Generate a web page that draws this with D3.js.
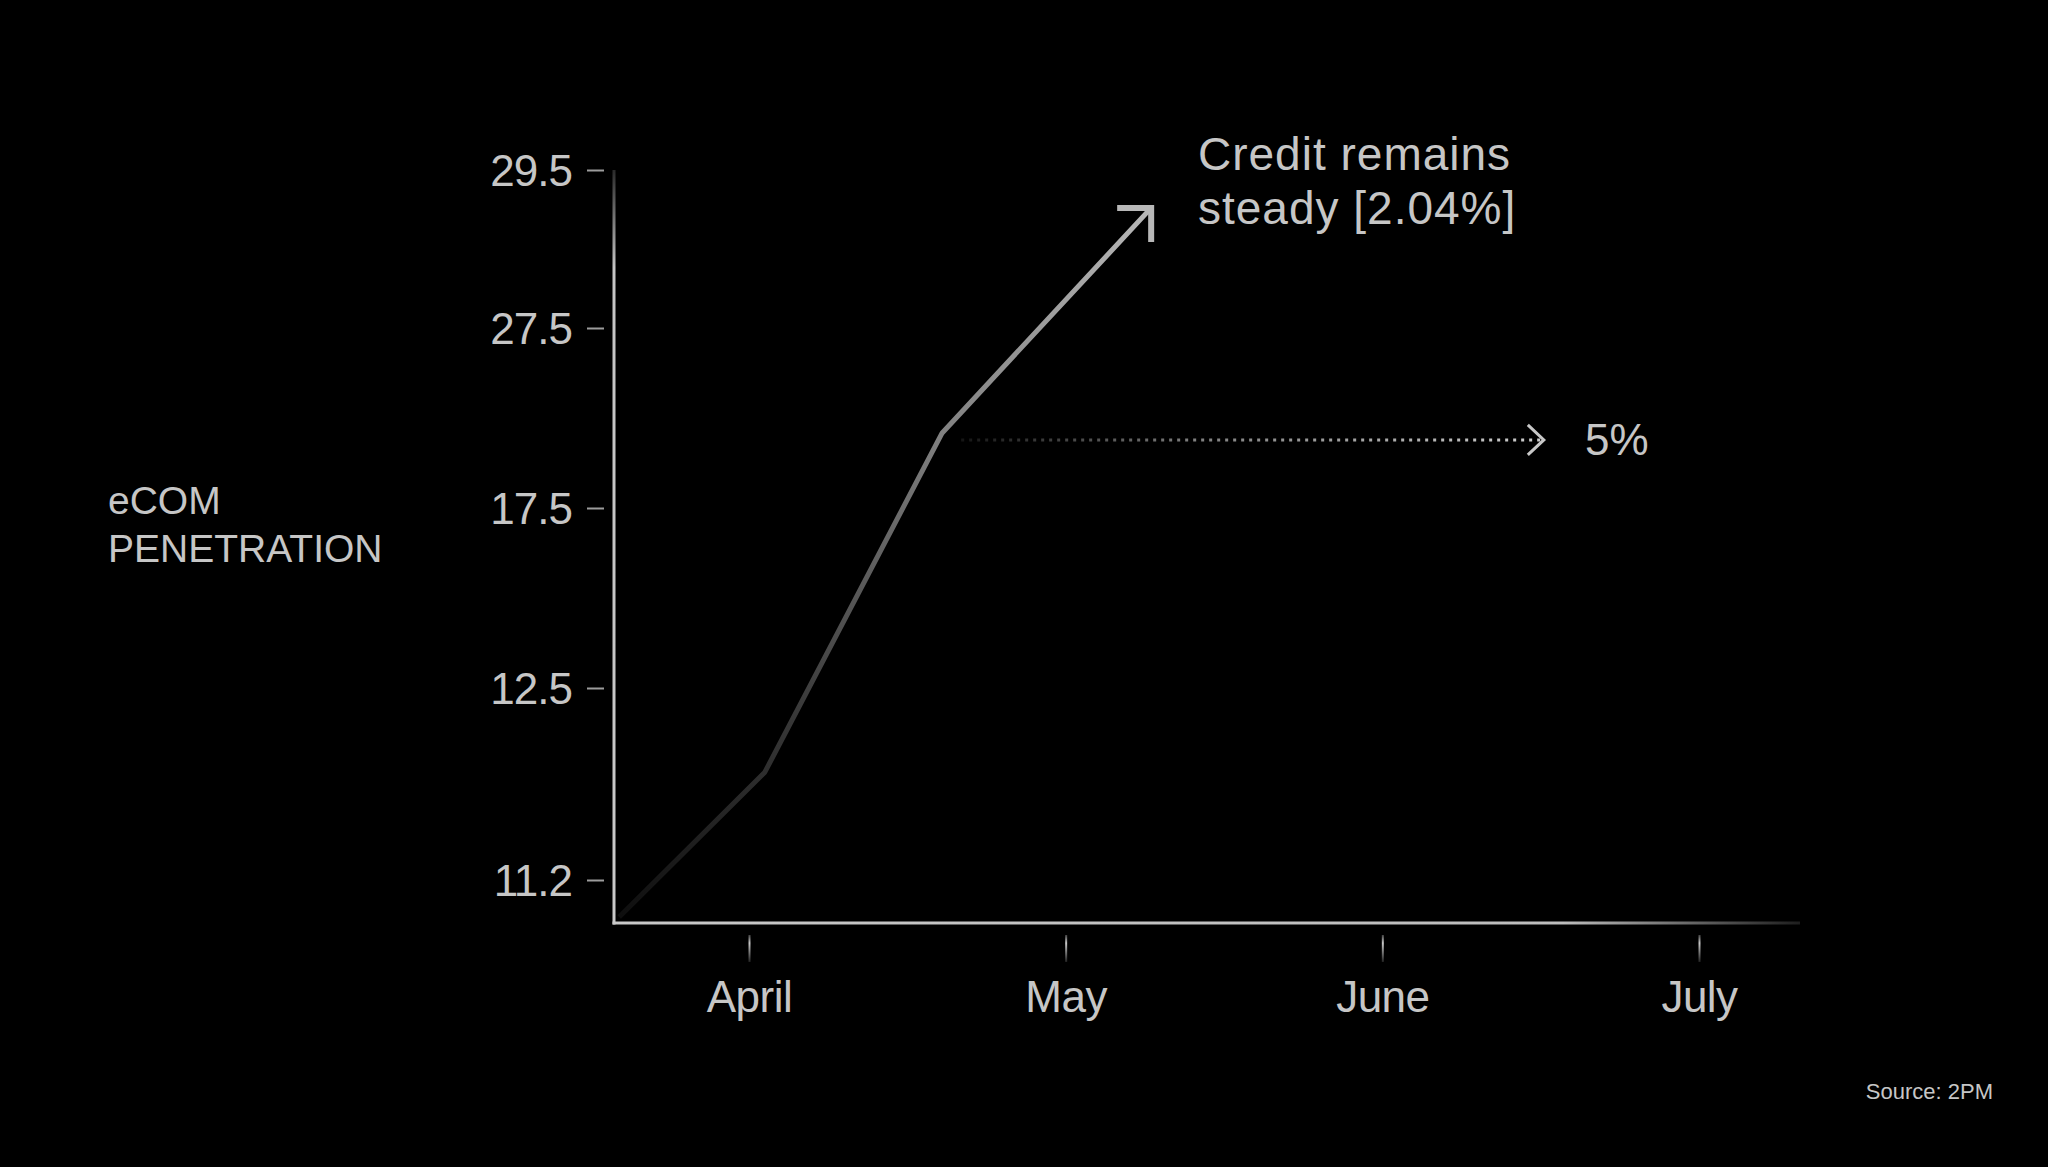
<!DOCTYPE html>
<html>
<head>
<meta charset="utf-8">
<script src="https://cdn.jsdelivr.net/npm/d3@7"></script>
<style>
  html, body { margin: 0; padding: 0; background: #000; }
  svg { display: block; }
  text { font-family: "Liberation Sans", Arial, sans-serif; fill: #c6c6c6; }
</style>
</head>
<body>
<script>
// ---- data ----
const months = ["April", "May", "June", "July"];
const yTicks = [11.2, 12.5, 17.5, 27.5, 29.5];
const yTickLabels = ["11.2", "12.5", "17.5", "27.5", "29.5"];
// line (x = month position, 0 = April)
const lineX = [-0.41, 0.05, 0.61, 1.27];
const lineY = [10.95, 11.93, 21.67, 29.02];
// dotted flat projection
const flatX = [0.67, 2.51];
const flatY = [21.28, 21.28];
const yTitle = ["eCOM", "PENETRATION"];
const noteCredit = ["Credit remains", "steady [2.04%]"];
const noteFlat = "5%";
const source = "Source: 2PM";

const W = 2048, H = 1167;
const svg = d3.select("body").append("svg").attr("width", W).attr("height", H);
svg.append("rect").attr("width", W).attr("height", H).attr("fill", "#000");

const x = d3.scaleLinear().domain([0, months.length - 1]).range([749, 1699]);
const y = d3.scaleLinear().domain(yTicks).range([880, 688, 508, 328, 170]);

const axisLeftX = 614, axisBottomY = 923, axisRight = 1800, axisTop = 170;

const defs = svg.append("defs");
const gY = defs.append("linearGradient").attr("id", "gY").attr("gradientUnits", "userSpaceOnUse")
  .attr("x1", 0).attr("y1", axisTop).attr("x2", 0).attr("y2", axisBottomY);
gY.append("stop").attr("offset", 0).attr("stop-color", "#2a2a2a");
gY.append("stop").attr("offset", 0.13).attr("stop-color", "#c4c4c4");
gY.append("stop").attr("offset", 1).attr("stop-color", "#c8c8c8");
const gX = defs.append("linearGradient").attr("id", "gX").attr("gradientUnits", "userSpaceOnUse")
  .attr("x1", axisLeftX).attr("y1", 0).attr("x2", axisRight).attr("y2", 0);
gX.append("stop").attr("offset", 0).attr("stop-color", "#c8c8c8");
gX.append("stop").attr("offset", 0.8).attr("stop-color", "#bdbdbd");
gX.append("stop").attr("offset", 1).attr("stop-color", "#1e1e1e");
const gT = defs.append("linearGradient").attr("id", "gT").attr("gradientUnits", "userSpaceOnUse")
  .attr("x1", 0).attr("y1", 0).attr("x2", 0).attr("y2", 27);
gT.append("stop").attr("offset", 0).attr("stop-color", "#444");
gT.append("stop").attr("offset", 0.3).attr("stop-color", "#c8c8c8");
gT.append("stop").attr("offset", 1).attr("stop-color", "#222");
const gL = defs.append("linearGradient").attr("id", "gL").attr("gradientUnits", "userSpaceOnUse")
  .attr("x1", x(lineX[0])).attr("y1", y(lineY[0]))
  .attr("x2", x(lineX[3])).attr("y2", y(lineY[3]));
gL.append("stop").attr("offset", 0).attr("stop-color", "#0e0e0e");
gL.append("stop").attr("offset", 0.3).attr("stop-color", "#383838");
gL.append("stop").attr("offset", 0.65).attr("stop-color", "#808080");
gL.append("stop").attr("offset", 1).attr("stop-color", "#b8b8b8");
const gD = defs.append("linearGradient").attr("id", "gD").attr("gradientUnits", "userSpaceOnUse")
  .attr("x1", x(flatX[0])).attr("y1", 0).attr("x2", x(flatX[1])).attr("y2", 0);
gD.append("stop").attr("offset", 0).attr("stop-color", "#151515");
gD.append("stop").attr("offset", 0.4).attr("stop-color", "#808080");
gD.append("stop").attr("offset", 1).attr("stop-color", "#cfcfcf");

// axis lines
svg.append("line").attr("x1", axisLeftX).attr("x2", axisLeftX)
  .attr("y1", axisTop).attr("y2", axisBottomY + 1.5)
  .attr("stroke", "url(#gY)").attr("stroke-width", 3);
svg.append("line").attr("x1", axisLeftX - 1.5).attr("x2", axisRight)
  .attr("y1", axisBottomY).attr("y2", axisBottomY)
  .attr("stroke", "url(#gX)").attr("stroke-width", 3);

// y axis ticks and labels
const yAxis = d3.axisLeft(y).tickValues(yTicks)
  .tickFormat((d, i) => yTickLabels[i]).tickSize(17).tickPadding(15);
const gy = svg.append("g").attr("transform", `translate(${axisLeftX - 10},0)`).call(yAxis);
gy.select(".domain").remove();
gy.selectAll(".tick line").attr("stroke", "#9c9c9c").attr("stroke-width", 2);
gy.selectAll(".tick text").attr("font-size", 44).attr("fill", "#c6c6c6")
  .attr("font-family", "Liberation Sans, Arial, sans-serif").attr("dy", "0.36em")
  .attr("letter-spacing", -1);

// x axis ticks and labels
const xAxis = d3.axisBottom(x).tickValues(d3.range(months.length))
  .tickFormat(i => months[i]).tickSize(27).tickPadding(19);
const gx = svg.append("g").attr("transform", `translate(0,${axisBottomY + 12})`).call(xAxis);
gx.select(".domain").remove();
gx.selectAll(".tick line").attr("stroke", "url(#gT)").attr("stroke-width", 2);
gx.selectAll(".tick text").attr("font-size", 44).attr("fill", "#c6c6c6")
  .attr("font-family", "Liberation Sans, Arial, sans-serif").attr("letter-spacing", -0.5);

// main line
const pts = lineX.map((d, i) => [d, lineY[i]]);
const lineGen = d3.line().x(d => x(d[0])).y(d => y(d[1]));
svg.append("path").datum(pts).attr("d", lineGen)
  .attr("fill", "none").attr("stroke", "url(#gL)").attr("stroke-width", 5)
  .attr("stroke-linejoin", "round");
const tx = x(lineX[3]), ty = y(lineY[3]);
svg.append("path")
  .attr("d", `M${tx - 34},${ty} L${tx},${ty} L${tx},${ty + 34}`)
  .attr("fill", "none").attr("stroke", "#b8b8b8").attr("stroke-width", 6)
  .attr("stroke-linejoin", "miter");

// dotted flat line
const fy = y(flatY[0]);
svg.append("line").attr("x1", x(flatX[0])).attr("x2", x(flatX[1]) - 3)
  .attr("y1", fy).attr("y2", fy)
  .attr("stroke", "url(#gD)").attr("stroke-width", 3).attr("stroke-dasharray", "3 5");
const ex = x(flatX[1]);
svg.append("path").attr("d", `M${ex - 16},${fy - 15} L${ex},${fy} L${ex - 16},${fy + 15}`)
  .attr("fill", "none").attr("stroke", "#c8c8c8").attr("stroke-width", 3);

// annotations
const credit = svg.append("text").attr("x", 1198).attr("y", 170)
  .attr("font-size", 46).attr("letter-spacing", 1).attr("fill", "#c8c8c8");
noteCredit.forEach((t, i) => credit.append("tspan").attr("x", 1198).attr("dy", i ? 54 : 0).text(t));

svg.append("text").attr("x", 1585).attr("y", 455).attr("font-size", 44)
  .attr("fill", "#c8c8c8").text(noteFlat);

// y title
const yt = svg.append("text").attr("x", 108).attr("y", 514).attr("font-size", 39).attr("fill", "#c6c6c6");
yTitle.forEach((t, i) => yt.append("tspan").attr("x", 108).attr("dy", i ? 48 : 0).text(t));

// source
svg.append("text").attr("x", 1993).attr("y", 1099).attr("text-anchor", "end")
  .attr("font-size", 22).attr("fill", "#8a8a8a").text(source);
</script>
</body>
</html>
